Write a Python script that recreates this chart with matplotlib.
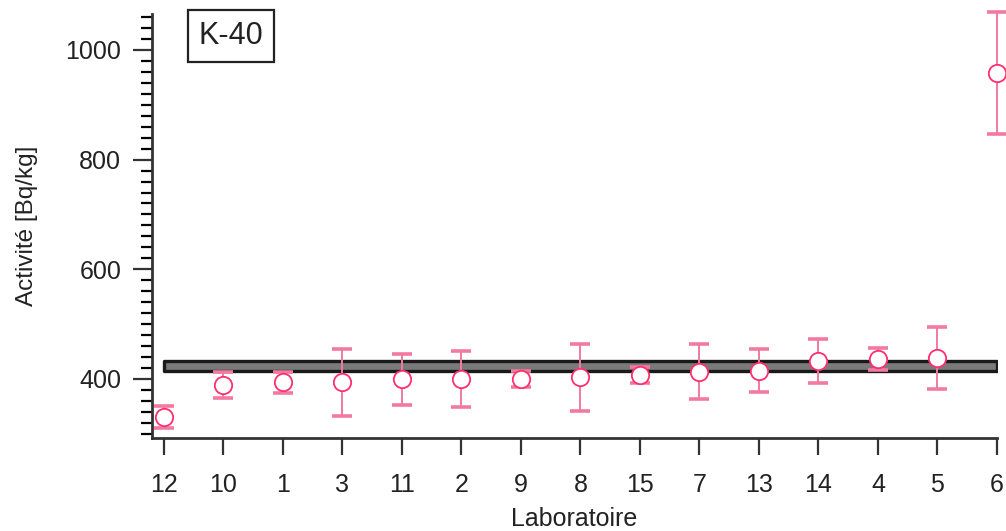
import matplotlib.pyplot as plt
from matplotlib.ticker import MultipleLocator

plt.rcParams["font.family"] = ["Liberation Sans", "DejaVu Sans"]

# K-40 activity per laboratory, sorted by reported value
labs = ["12", "10", "1", "3", "11", "2", "9", "8", "15", "7", "13", "14", "4", "5", "6"]
activity = [331, 389, 394, 394, 399, 399, 400, 403, 407, 413, 415, 433, 436, 438, 958]
uncertainty = [20, 23, 19, 61, 47, 51, 15, 61, 14, 50, 39, 40, 20, 56, 111]

# reference value band
ref_value = 424
ref_halfwidth = 9

fig = plt.figure(figsize=(10.06, 5.31), dpi=100)
ax = fig.add_axes([0.151, 0.175, 0.84, 0.799])

x = list(range(len(labs)))

ax.fill_between([x[0], x[-1]], ref_value - ref_halfwidth, ref_value + ref_halfwidth,
                facecolor="#7a7a7a", edgecolor="#1a1a1a", linewidth=2.4, zorder=2)

eb = ax.errorbar(x, activity, yerr=uncertainty, fmt="none", ecolor="#f27aa0",
                 elinewidth=1.4, capsize=7, capthick=2.6, zorder=3)
for cap in eb[1]:
    cap.set_color("#ff2a6a")
    cap.set_clip_on(False)
for line in eb[2]:
    line.set_clip_on(False)
ax.plot(x, activity, "o", markersize=12.5, markerfacecolor="white",
        markeredgecolor="#ff2f6e", markeredgewidth=1.3, linestyle="none",
        zorder=4, clip_on=False)

ax.set_xlim(-0.2, 14)
ax.set_ylim(292, 1066)
ax.set_xticks(x)
ax.set_xticklabels(labs)
ax.yaxis.set_major_locator(MultipleLocator(200))
ax.yaxis.set_minor_locator(MultipleLocator(20))

for side in ["top", "right"]:
    ax.spines[side].set_visible(False)
for side in ["left", "bottom"]:
    ax.spines[side].set_color("#333333")
    ax.spines[side].set_linewidth(2)

ax.tick_params(axis="both", labelsize=18, colors="#333333", labelcolor="#222222")
ax.tick_params(axis="y", which="major", length=14, width=1.6, pad=8)
ax.tick_params(axis="y", which="minor", length=8, width=1.6)
ax.tick_params(axis="x", which="major", length=12, width=1.6, pad=13)

ax.set_ylabel("Activité [Bq/kg]", fontsize=17.5, color="#222222", labelpad=20)
ax.set_xlabel("Laboratoire", fontsize=18, color="#222222", labelpad=7)

ax.text(0.0935, 0.948, "K-40", transform=ax.transAxes, fontsize=22, ha="center",
        va="center", color="#222222",
        bbox=dict(boxstyle="square,pad=0.35", facecolor="white", edgecolor="#222222",
                  linewidth=1.6))

fig.savefig("out.png", dpi=100)
